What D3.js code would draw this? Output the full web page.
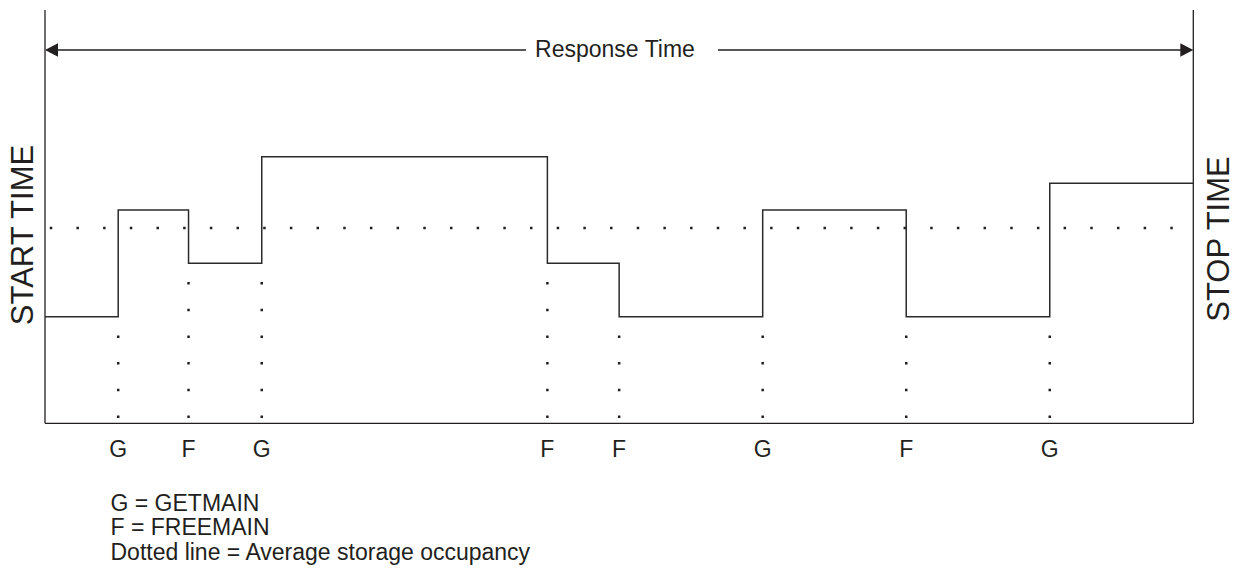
<!DOCTYPE html>
<html>
<head>
<meta charset="utf-8">
<script src="https://cdn.jsdelivr.net/npm/d3@7"></script>
<style>
  html, body { margin: 0; padding: 0; background: #fff; }
  svg text { font-family: "Liberation Sans", Arial, Helvetica, sans-serif; fill: #231f20; }
</style>
</head>
<body>
<svg id="chart" width="1236" height="569"></svg>
<script>
// ---- data ----
const eventTimes = [1.02, 2, 3.02, 7, 8, 10, 12, 14];
const eventTypes = ["G", "F", "G", "F", "F", "G", "F", "G"];
const storageLevels = [4, 8, 6, 10, 6, 4, 8, 4, 9]; // before first event, then after each event
const averageOccupancy = 7.32;
const timeDomain = [0, 16];
const storageDomain = [0, 15.5];
const legendLines = ["G = GETMAIN", "F = FREEMAIN", "Dotted line = Average storage occupancy"];

// ---- layout ----
const svg = d3.select("#chart");
const plotLeft = 45, plotRight = 1193.3, plotBottom = 423.3, plotTop = 10;
const x = d3.scaleLinear().domain(timeDomain).range([plotLeft, plotRight]);
const y = d3.scaleLinear().domain(storageDomain).range([plotBottom, plotTop]);
const ink = "#231f20";

// frame: two verticals + baseline
svg.append("line").attr("x1", x(timeDomain[0])).attr("x2", x(timeDomain[0]))
  .attr("y1", y(storageDomain[1])).attr("y2", y(0)).attr("stroke", ink).attr("stroke-width", 1.3);
svg.append("line").attr("x1", x(timeDomain[1])).attr("x2", x(timeDomain[1]))
  .attr("y1", y(storageDomain[1])).attr("y2", y(0)).attr("stroke", ink).attr("stroke-width", 1.3);
svg.append("line").attr("x1", x(timeDomain[0])).attr("x2", x(timeDomain[1]))
  .attr("y1", y(0)).attr("y2", y(0)).attr("stroke", ink).attr("stroke-width", 1.3);

// response time arrow
const arrowY = 50;
const gapL = 526, gapR = 718;
svg.append("line").attr("x1", x(timeDomain[0]) + 10).attr("x2", gapL)
  .attr("y1", arrowY).attr("y2", arrowY).attr("stroke", ink).attr("stroke-width", 1.3);
svg.append("line").attr("x1", gapR).attr("x2", x(timeDomain[1]) - 10)
  .attr("y1", arrowY).attr("y2", arrowY).attr("stroke", ink).attr("stroke-width", 1.3);
const aL = x(timeDomain[0]), aR = x(timeDomain[1]);
svg.append("path").attr("d", `M${aL},${arrowY} L${aL + 13},${arrowY - 6.7} L${aL + 13},${arrowY + 6.7} Z`).attr("fill", ink);
svg.append("path").attr("d", `M${aR},${arrowY} L${aR - 13},${arrowY - 6.7} L${aR - 13},${arrowY + 6.7} Z`).attr("fill", ink);
svg.append("text").attr("x", (gapL + gapR) / 2 - 7).attr("y", 56.5).attr("text-anchor", "middle")
  .attr("font-size", 23).text("Response Time");

// average occupancy dotted line
const unitPx = y(0) - y(1);
const dot = 2.5;
svg.append("line").attr("x1", x(timeDomain[0])).attr("x2", x(timeDomain[1]))
  .attr("y1", y(averageOccupancy)).attr("y2", y(averageOccupancy))
  .attr("stroke", ink).attr("stroke-width", dot)
  .attr("stroke-dasharray", `${dot} ${26.68 - dot}`)
  .attr("stroke-dashoffset", -(6 - dot / 2));

// vertical dotted lines under each event
eventTimes.forEach((t, i) => {
  const lower = Math.min(storageLevels[i], storageLevels[i + 1]);
  svg.append("line").attr("x1", x(t)).attr("x2", x(t))
    .attr("y1", y(0)).attr("y2", y(lower))
    .attr("stroke", ink).attr("stroke-width", dot)
    .attr("stroke-dasharray", `${dot} ${unitPx - dot}`)
    .attr("stroke-dashoffset", -(unitPx / 4 - dot / 2));
});

// step line
const stepPoints = [[timeDomain[0], storageLevels[0]]]
  .concat(eventTimes.map((t, i) => [t, storageLevels[i + 1]]))
  .concat([[timeDomain[1], storageLevels[storageLevels.length - 1]]]);
svg.append("path")
  .attr("d", d3.line().x(d => x(d[0])).y(d => y(d[1])).curve(d3.curveStepAfter)(stepPoints))
  .attr("fill", "none").attr("stroke", "#2b2b2b").attr("stroke-width", 1.5);

// event labels
svg.selectAll("text.ev").data(eventTimes).join("text").attr("class", "ev")
  .attr("x", d => x(d)).attr("y", 456.5).attr("text-anchor", "middle")
  .attr("font-size", 23).text((d, i) => eventTypes[i]);

// side labels
svg.append("text").attr("transform", `translate(33,235) rotate(-90)`)
  .attr("text-anchor", "middle").attr("font-size", 31).text("START TIME");
svg.append("text").attr("transform", `translate(1228.5,239) rotate(-90)`)
  .attr("text-anchor", "middle").attr("font-size", 31).text("STOP TIME");

// legend
svg.selectAll("text.lg").data(legendLines).join("text").attr("class", "lg")
  .attr("x", 110.5).attr("y", (d, i) => 510.5 + i * 24.7)
  .attr("font-size", 23).text(d => d);
</script>
</body>
</html>
